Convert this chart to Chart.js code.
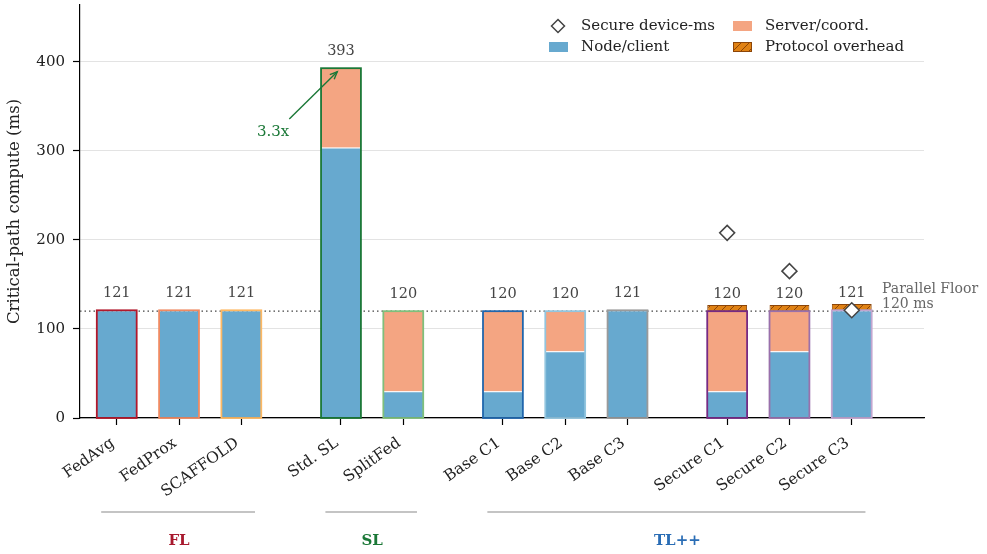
<!DOCTYPE html>
<html>
<head>
<meta charset="utf-8">
<script src="https://cdn.jsdelivr.net/npm/chart.js@4.4.1/dist/chart.umd.min.js"></script>
<style>
  html, body { margin: 0; padding: 0; background: #fff; }
  #wrap { width: 987px; height: 554px; }
</style>
</head>
<body>
<div id="wrap"><canvas id="c" width="987" height="554"></canvas></div>
<script>
// Methods and their slot on the x axis (groups separated by a wider gap)
const methods = ['FedAvg', 'FedProx', 'SCAFFOLD', 'Std. SL', 'SplitFed',
                 'Base C1', 'Base C2', 'Base C3', 'Secure C1', 'Secure C2', 'Secure C3'];
const slots = [0, 1, 2, 3.6, 4.6, 6.2, 7.2, 8.2, 9.8, 10.8, 11.8];

// Critical-path compute per method (ms)
const nodeMs     = [121, 121, 121, 304, 30, 30, 75, 121, 30, 75, 121];
const serverMs   = [0, 0, 0, 89, 90, 90, 45, 0, 90, 45, 0];
const overheadMs = [0, 0, 0, 0, 0, 0, 0, 0, 7, 7, 7];
const secureDeviceMs = [null, null, null, null, null, null, null, null, 208, 165, 121];

const yTicks = [0, 100, 200, 300, 400];
const floorMs = 120;
const speedupText = '3.3x';

const groupNames   = ['FL', 'SL', 'TL++'];
const groupFirst   = [0, 3, 5];
const groupLast    = [2, 4, 10];

// styling
const edgeColors = ['#b2182b', '#ef8a62', '#fdb863', '#1b7837', '#7fbf7b',
                    '#2166ac', '#92c5de', '#9a9a9a', '#762a83', '#9970ab', '#c2a5cf'];
const groupColors = ['#a8192e', '#1b7837', '#2a6db5'];
const NODE = '#67a9cf', SERVER = '#f4a582', OVER = '#e08214', OVER_EDGE = '#8c4508';
const SERIF = "'DejaVu Serif', serif";
const INK = '#222';

function hatch() {
  const s = 8, c = document.createElement('canvas');
  c.width = s; c.height = s;
  const g = c.getContext('2d');
  g.fillStyle = OVER; g.fillRect(0, 0, s, s);
  g.strokeStyle = OVER_EDGE; g.lineWidth = 1;
  g.beginPath();
  g.moveTo(0, s); g.lineTo(s, 0);
  g.moveTo(-s / 2, s / 2); g.lineTo(s / 2, -s / 2);
  g.moveTo(s / 2, s * 1.5); g.lineTo(s * 1.5, s / 2);
  g.stroke();
  return g.createPattern(c, 'repeat');
}
const hatchFill = hatch();

const pts = (vals) => slots.map((x, i) => ({ x, y: vals[i] })).filter(p => p.y !== null && p.y > 0);
const totals = nodeMs.map((v, i) => v + serverMs[i]);

const NODE_DS = 1;

const decor = {
  id: 'decor',
  beforeDraw(chart) {
    const { ctx } = chart;
    ctx.save(); ctx.fillStyle = '#fff'; ctx.fillRect(0, 0, chart.width, chart.height); ctx.restore();
  },
  beforeDatasetsDraw(chart) {
    const { ctx, chartArea: a, scales: { y } } = chart;
    const py = y.getPixelForValue(floorMs);
    ctx.save();
    ctx.strokeStyle = '#444'; ctx.lineWidth = 1.3; ctx.setLineDash([1.5, 3]);
    ctx.beginPath(); ctx.moveTo(a.left, py); ctx.lineTo(a.right, py); ctx.stroke();
    ctx.restore();
  },
  afterDatasetDraw(chart, args) {
    if (args.index !== NODE_DS) return;
    const { ctx, scales: { y } } = chart;
    const meta = chart.getDatasetMeta(NODE_DS);
    ctx.save();
    ctx.lineWidth = 1.8;
    meta.data.forEach((el, i) => {
      const top = y.getPixelForValue(totals[i]);
      const bot = y.getPixelForValue(0);
      ctx.strokeStyle = edgeColors[i];
      ctx.strokeRect(el.x - el.width / 2, top, el.width, bot - top);
    });
    ctx.restore();
  },
  afterDraw(chart) {
    const { ctx, chartArea: a, scales: { x, y } } = chart;
    const meta = chart.getDatasetMeta(NODE_DS);
    ctx.save();

    // totals above bars
    ctx.font = `14.5px ${SERIF}`; ctx.fillStyle = '#444';
    ctx.textAlign = 'center'; ctx.textBaseline = 'middle';
    meta.data.forEach((el, i) => {
      ctx.fillText(String(totals[i]), el.x, y.getPixelForValue(totals[i]) - 17);
    });

    // floor note
    ctx.font = `14px ${SERIF}`; ctx.fillStyle = '#666'; ctx.textAlign = 'left';
    ctx.fillText('Parallel Floor', a.right - 42, 289);
    ctx.fillText(`${floorMs} ms`, a.right - 42, 304);

    // speed-up arrow to Std. SL
    const green = '#1b7837';
    const hx = x.getPixelForValue(3.54), hy = y.getPixelForValue(389);
    const tx = x.getPixelForValue(2.77), ty = y.getPixelForValue(336);
    ctx.strokeStyle = green; ctx.fillStyle = green; ctx.lineWidth = 1.4;
    ctx.beginPath(); ctx.moveTo(tx, ty); ctx.lineTo(hx, hy); ctx.stroke();
    const ang = Math.atan2(hy - ty, hx - tx), L = 8;
    ctx.beginPath();
    ctx.moveTo(hx - L * Math.cos(ang - 0.4), hy - L * Math.sin(ang - 0.4));
    ctx.lineTo(hx, hy);
    ctx.lineTo(hx - L * Math.cos(ang + 0.4), hy - L * Math.sin(ang + 0.4));
    ctx.stroke();
    ctx.font = `15px ${SERIF}`; ctx.textAlign = 'center'; ctx.textBaseline = 'middle';
    ctx.fillText(speedupText, x.getPixelForValue(2.51), y.getPixelForValue(321));

    // group brackets
    groupNames.forEach((g, k) => {
      const x0 = x.getPixelForValue(slots[groupFirst[k]] - 0.25);
      const x1 = x.getPixelForValue(slots[groupLast[k]] + 0.22);
      ctx.strokeStyle = '#8a8a8a'; ctx.lineWidth = 1.2;
      ctx.beginPath(); ctx.moveTo(x0, 512); ctx.lineTo(x1, 512); ctx.stroke();
      ctx.font = `bold 15px ${SERIF}`; ctx.fillStyle = groupColors[k];
      ctx.fillText(g, (x.getPixelForValue(slots[groupFirst[k]]) + x.getPixelForValue(slots[groupLast[k]])) / 2, 541);
    });

    // legend
    ctx.font = `15px ${SERIF}`; ctx.fillStyle = INK; ctx.textAlign = 'left'; ctx.textBaseline = 'middle';
    const r1 = 26, r2 = 47;
    ctx.strokeStyle = '#444'; ctx.lineWidth = 1.5; ctx.fillStyle = '#fff';
    ctx.beginPath();
    ctx.moveTo(558, r1 - 6.5); ctx.lineTo(564.5, r1); ctx.lineTo(558, r1 + 6.5); ctx.lineTo(551.5, r1); ctx.closePath();
    ctx.fill(); ctx.stroke();
    ctx.fillStyle = NODE; ctx.fillRect(549, r2 - 5, 19, 10);
    ctx.fillStyle = SERVER; ctx.fillRect(733, r1 - 5, 19, 10);
    ctx.fillStyle = hatchFill; ctx.fillRect(733, r2 - 5, 19, 10);
    ctx.strokeStyle = OVER_EDGE; ctx.lineWidth = 1; ctx.strokeRect(733.5, r2 - 4.5, 18, 9);
    ctx.fillStyle = INK;
    ctx.fillText('Secure device-ms', 581, r1);
    ctx.fillText('Node/client', 581, r2);
    ctx.fillText('Server/coord.', 765, r1);
    ctx.fillText('Protocol overhead', 765, r2);

    ctx.restore();
  }
};

new Chart(document.getElementById('c'), {
  type: 'bar',
  data: {
    datasets: [
      {
        type: 'scatter', label: 'Secure device-ms', data: pts(secureDeviceMs),
        pointStyle: 'rectRot', pointRadius: 7.5, pointBackgroundColor: '#fff',
        pointBorderColor: '#444', pointBorderWidth: 1.5, showLine: false
      },
      {
        label: 'Node/client', data: pts(nodeMs), backgroundColor: NODE,
        borderColor: '#fff', borderWidth: { top: 1, left: 0, right: 0, bottom: 0 }, borderSkipped: 'start'
      },
      { label: 'Server/coord.', data: pts(serverMs), backgroundColor: SERVER, borderWidth: 0 },
      {
        label: 'Protocol overhead', data: pts(overheadMs), backgroundColor: hatchFill,
        borderColor: OVER_EDGE, borderWidth: 1, borderSkipped: false
      }
    ]
  },
  options: {
    responsive: false,
    animation: false,
    barPercentage: 0.64,
    categoryPercentage: 1,
    layout: { autoPadding: false, padding: { top: 5, right: 63, left: 0, bottom: 0 } },
    plugins: { legend: { display: false }, tooltip: { enabled: false } },
    scales: {
      x: {
        type: 'linear', min: -0.59, max: 12.96, stacked: true, offset: false,
        afterBuildTicks: s => { s.ticks = slots.map(v => ({ value: v })); },
        afterFit: s => { s.height = 136; s.paddingLeft = 0; s.paddingRight = 0; },
        ticks: {
          autoSkip: false, minRotation: 35, maxRotation: 35, padding: 9, labelOffset: -4,
          font: { family: SERIF, size: 15.5 }, color: INK,
          callback: (v, i) => methods[i]
        },
        grid: { offset: false, drawOnChartArea: false, drawTicks: true, tickLength: 7, tickColor: '#000', tickWidth: 1.2 },
        border: { color: '#000', width: 1.2 }
      },
      y: {
        min: 0, max: 464, stacked: true,
        afterBuildTicks: s => { s.ticks = yTicks.map(v => ({ value: v })); },
        afterFit: s => { s.width = 80; s.paddingTop = 0; s.paddingBottom = 0; },
        ticks: { padding: 8, font: { family: SERIF, size: 15, lineHeight: 0.6 }, color: INK },
        grid: { color: '#e3e3e3', lineWidth: 1, tickColor: '#000', tickLength: 7, tickWidth: 1.2 },
        border: { color: '#000', width: 1.2 },
        title: {
          display: true, text: 'Critical-path compute (ms)', color: INK,
          font: { family: SERIF, size: 16.5 }, padding: { top: 5, bottom: 0 }
        }
      }
    }
  },
  plugins: [decor]
});
</script>
</body>
</html>
